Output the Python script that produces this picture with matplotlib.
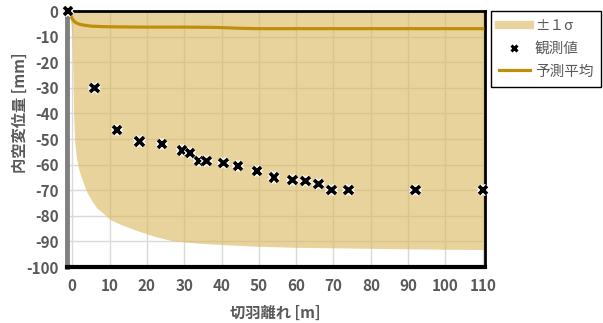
import matplotlib
matplotlib.use("Agg")
import matplotlib.pyplot as plt
import matplotlib.patheffects as pe
from matplotlib.lines import Line2D
from matplotlib.ticker import FuncFormatter

plt.rcParams['font.family'] = ['Noto Sans CJK JP', 'DejaVu Sans']

# Observed values
obs_x = [-1.2, 6, 12, 18, 24, 29.5, 31.5, 34, 36, 40.5, 44.5, 49.5, 54, 59, 62.5, 66, 69.5, 74, 92, 110]
obs_y = [0, -30, -46.5, -51, -52, -54.5, -55.5, -58.5, -58.5, -59.5, -60.5, -62.5, -65, -66, -66.5, -67.5, -70, -70, -70, -70]

# Predicted mean
mean_x = [-1, -0.5, 0, 0.5, 1, 2, 3, 5, 8, 12, 20, 30, 38, 42, 46, 50, 70, 110]
mean_y = [0, -1.5, -3, -4, -4.6, -5.2, -5.5, -5.9, -6.1, -6.2, -6.3, -6.3, -6.4, -6.6, -6.8, -6.9, -6.9, -6.9]

# +-1 sigma band (lower edge; upper edge beyond top of axis)
band_x = [-1.4, -0.7, -0.3, 0.0, 0.2, 0.4, 0.7, 1.1, 1.6, 2.2, 3, 4, 5.2, 6.5, 8.3, 10, 12.4, 17, 22, 27, 33, 39.5, 49.5, 59.7, 69.8, 90, 110.6]
band_lo = [0, -2, -5, -12, -25, -42, -52, -57, -61, -64, -67.3, -71, -74, -76.8, -79, -81.3, -83, -85.6, -88, -89.8, -90.6, -91.2, -91.9, -92.3, -92.5, -92.9, -93.2]
band_hi = [2, 2, 2, 2, 2, 2, 2, 2, 2, 2, 2, 2, 2, 2, 2, 2, 2, 2, 2, 2, 2, 2, 2, 2, 2, 2, 2]

x_ticks = [0, 10, 20, 30, 40, 50, 60, 70, 80, 90, 100, 110]
y_ticks = [0, -10, -20, -30, -40, -50, -60, -70, -80, -90, -100]

BAND_C = '#d9b75a'
LINE_C = '#bf8f0c'
TXT_C = '#595959'

fig = plt.figure(figsize=(6.03, 3.23), dpi=100)
ax = fig.add_axes([67 / 603, 1 - 267 / 323, (485 - 67) / 603, (267 - 11) / 323])

ax.set_axisbelow(True)
ax.grid(True, color='#d9d9d9', linewidth=1.0)

ax.fill_between(band_x, band_lo, band_hi, color=BAND_C, alpha=0.6, linewidth=0, zorder=2)
line, = ax.plot(mean_x, mean_y, color=LINE_C, linewidth=2.3, zorder=3)
ax.plot(obs_x, obs_y, linestyle='none', marker='x', color='black', markersize=6,
        markeredgewidth=2.6, zorder=4, clip_on=False,
        path_effects=[pe.withStroke(linewidth=4.5, foreground='white')])

ax.set_xlim(-1.4, 110.6)
ax.set_ylim(-100, 0)
ax.set_xticks(x_ticks)
ax.set_yticks(y_ticks)
fmt = FuncFormatter(lambda v, p: ('-' if v < 0 else '') + '%d' % abs(v))
ax.yaxis.set_major_formatter(fmt)
ax.tick_params(length=0, labelsize=11, labelcolor=TXT_C)
ax.tick_params(axis='x', pad=8)
ax.tick_params(axis='y', pad=6)
for lab in ax.get_xticklabels() + ax.get_yticklabels():
    lab.set_fontweight('bold')

for s in ['top', 'right']:
    ax.spines[s].set_color('black')
    ax.spines[s].set_linewidth(2)
ax.spines['bottom'].set_color('black')
ax.spines['bottom'].set_linewidth(3)
ax.spines['left'].set_color('#808080')
ax.spines['left'].set_linewidth(3.5)

ax.set_xlabel('切羽離れ [m]', fontsize=11, color=TXT_C, fontweight='bold')
ax.set_ylabel('内空変位量 [mm]', fontsize=11, color=TXT_C, fontweight='bold')
ax.xaxis.set_label_coords((275 - 67) / 418, (267 - 313) / 256)
ax.yaxis.set_label_coords((20 - 67) / 418, (267 - 113) / 256)
ax.xaxis.label.set_va('center')
ax.yaxis.label.set_va('center')

h_band = Line2D([], [], color=BAND_C, alpha=0.6, linewidth=6)
h_pts = Line2D([], [], linestyle='none', marker='x', color='black', markersize=5, markeredgewidth=2.2)
h_line = Line2D([], [], color=LINE_C, linewidth=2.3)
leg = fig.legend([h_band, h_pts, h_line], ['±１σ', '観測値', '予測平均'], loc='upper left',
                 bbox_to_anchor=(491 / 603, 1 - 11 / 323), fancybox=False, framealpha=1,
                 edgecolor='black', fontsize=10.5, handlelength=2.1, handletextpad=0.35,
                 borderpad=0.55, labelspacing=0.6, borderaxespad=0)
leg.get_frame().set_linewidth(1)
for t in leg.get_texts():
    t.set_color(TXT_C)

fig.savefig('out.png', dpi=100)
